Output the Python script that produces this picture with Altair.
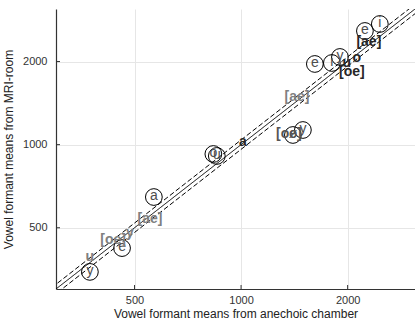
import altair as alt
import pandas as pd

# circled labels
circ_labels = ["y", "e", "a", "u", "o", "ø", "y", "e", "i", "y", "e", "i"]
circ_x = [374, 461, 567, 854, 835, 1401, 1495, 1616, 1805, 1902, 2238, 2466]
circ_y = [346, 422, 646, 910, 925, 1084, 1130, 1960, 1976, 2078, 2581, 2736]

# bracketed / bold labels
lab_text = ["u", "[oe]", "y", "[ae]", "a", "[oe]", "[ae]", "u", "o", "[oe]", "[ae]"]
lab_x = [374, 435, 485, 553, 1012, 1365, 1438, 1990, 2124, 2057, 2296]
lab_y = [392, 451, 479, 538, 1022, 1093, 1488, 1976, 2060, 1833, 2354]
lab_group = ["light", "light", "light", "light", "dark", "mid", "light", "dark", "dark", "dark", "dark"]

tick_values = [500, 1000, 2000]
line_ends = [250, 3500]
band = 1.04

circ = pd.DataFrame({"x": circ_x, "y": circ_y, "t": circ_labels})
labs = pd.DataFrame({"x": lab_x, "y": lab_y, "t": lab_text, "g": lab_group})
ticks = pd.DataFrame({"v": tick_values})
lines = pd.DataFrame({
    "x": line_ends * 3,
    "y": [line_ends[0], line_ends[1],
          line_ends[0] * band, line_ends[1] * band,
          line_ends[0] / band, line_ends[1] / band],
    "k": ["mid", "mid", "up", "up", "lo", "lo"],
    "d": ["solid", "solid", "dash", "dash", "dash", "dash"],
})

xs = alt.Scale(type="log", domain=[300, 3100], nice=False)
ys = alt.Scale(type="log", domain=[300, 3100], nice=False)

axis_common = dict(values=tick_values, format="d", grid=True, gridColor="#e6e6e6",
                   ticks=False, domainColor="#333333", domainWidth=1.2,
                   labelColor="#333333",
                   labelFont="Liberation Sans", labelFontSize=11,
                   titleFont="Liberation Sans", titleFontSize=12,
                   titleFontWeight="normal", titleColor="#222222")

line_layer = alt.Chart(lines).mark_line(color="black", strokeWidth=1, clip=True).encode(
    x=alt.X("x:Q", scale=xs,
            axis=alt.Axis(title="Vowel formant means from anechoic chamber",
                          labelPadding=5, titlePadding=3, **axis_common)),
    y=alt.Y("y:Q", scale=ys,
            axis=alt.Axis(title="Vowel formant means from MRI-room",
                          labelPadding=9, titlePadding=7, **axis_common)),
    detail="k:N",
    strokeDash=alt.StrokeDash("d:N", scale=alt.Scale(domain=["solid", "dash"],
                                                      range=[[1, 0], [5, 2.5]]),
                              legend=None),
)

xticks = alt.Chart(ticks).mark_rule(color="#333333").encode(
    x=alt.X("v:Q", scale=xs), y=alt.value(280), y2=alt.value(276))
yticks = alt.Chart(ticks).mark_rule(color="#333333").encode(
    y=alt.Y("v:Q", scale=ys), x=alt.value(0), x2=alt.value(4))

circles = alt.Chart(circ).mark_point(shape="circle", size=280, filled=False,
                                     color="black", strokeWidth=1, opacity=1).encode(
    x=alt.X("x:Q", scale=xs), y=alt.Y("y:Q", scale=ys))
circ_text = alt.Chart(circ).mark_text(font="Liberation Sans", fontSize=14, color="#4d4d4d",
                                      baseline="middle", align="center", dy=-1).encode(
    x=alt.X("x:Q", scale=xs), y=alt.Y("y:Q", scale=ys), text="t:N")
lab_layer = alt.Chart(labs).mark_text(font="Liberation Sans", fontSize=14, fontWeight="bold",
                                      baseline="middle", align="center").encode(
    x=alt.X("x:Q", scale=xs), y=alt.Y("y:Q", scale=ys), text="t:N",
    color=alt.Color("g:N", scale=alt.Scale(domain=["light", "mid", "dark"],
                                           range=["#808080", "#555555", "#262626"]),
                    legend=None))

chart = alt.layer(line_layer, xticks, yticks, circles, circ_text, lab_layer).properties(
    width=359, height=280,
    autosize=alt.AutoSizeParams(type="none"),
    padding={"left": 56, "top": 9, "right": 0, "bottom": 34},
).configure_view(stroke=None)

chart.save("out.html", embed_options={"renderer": "svg", "actions": False})
